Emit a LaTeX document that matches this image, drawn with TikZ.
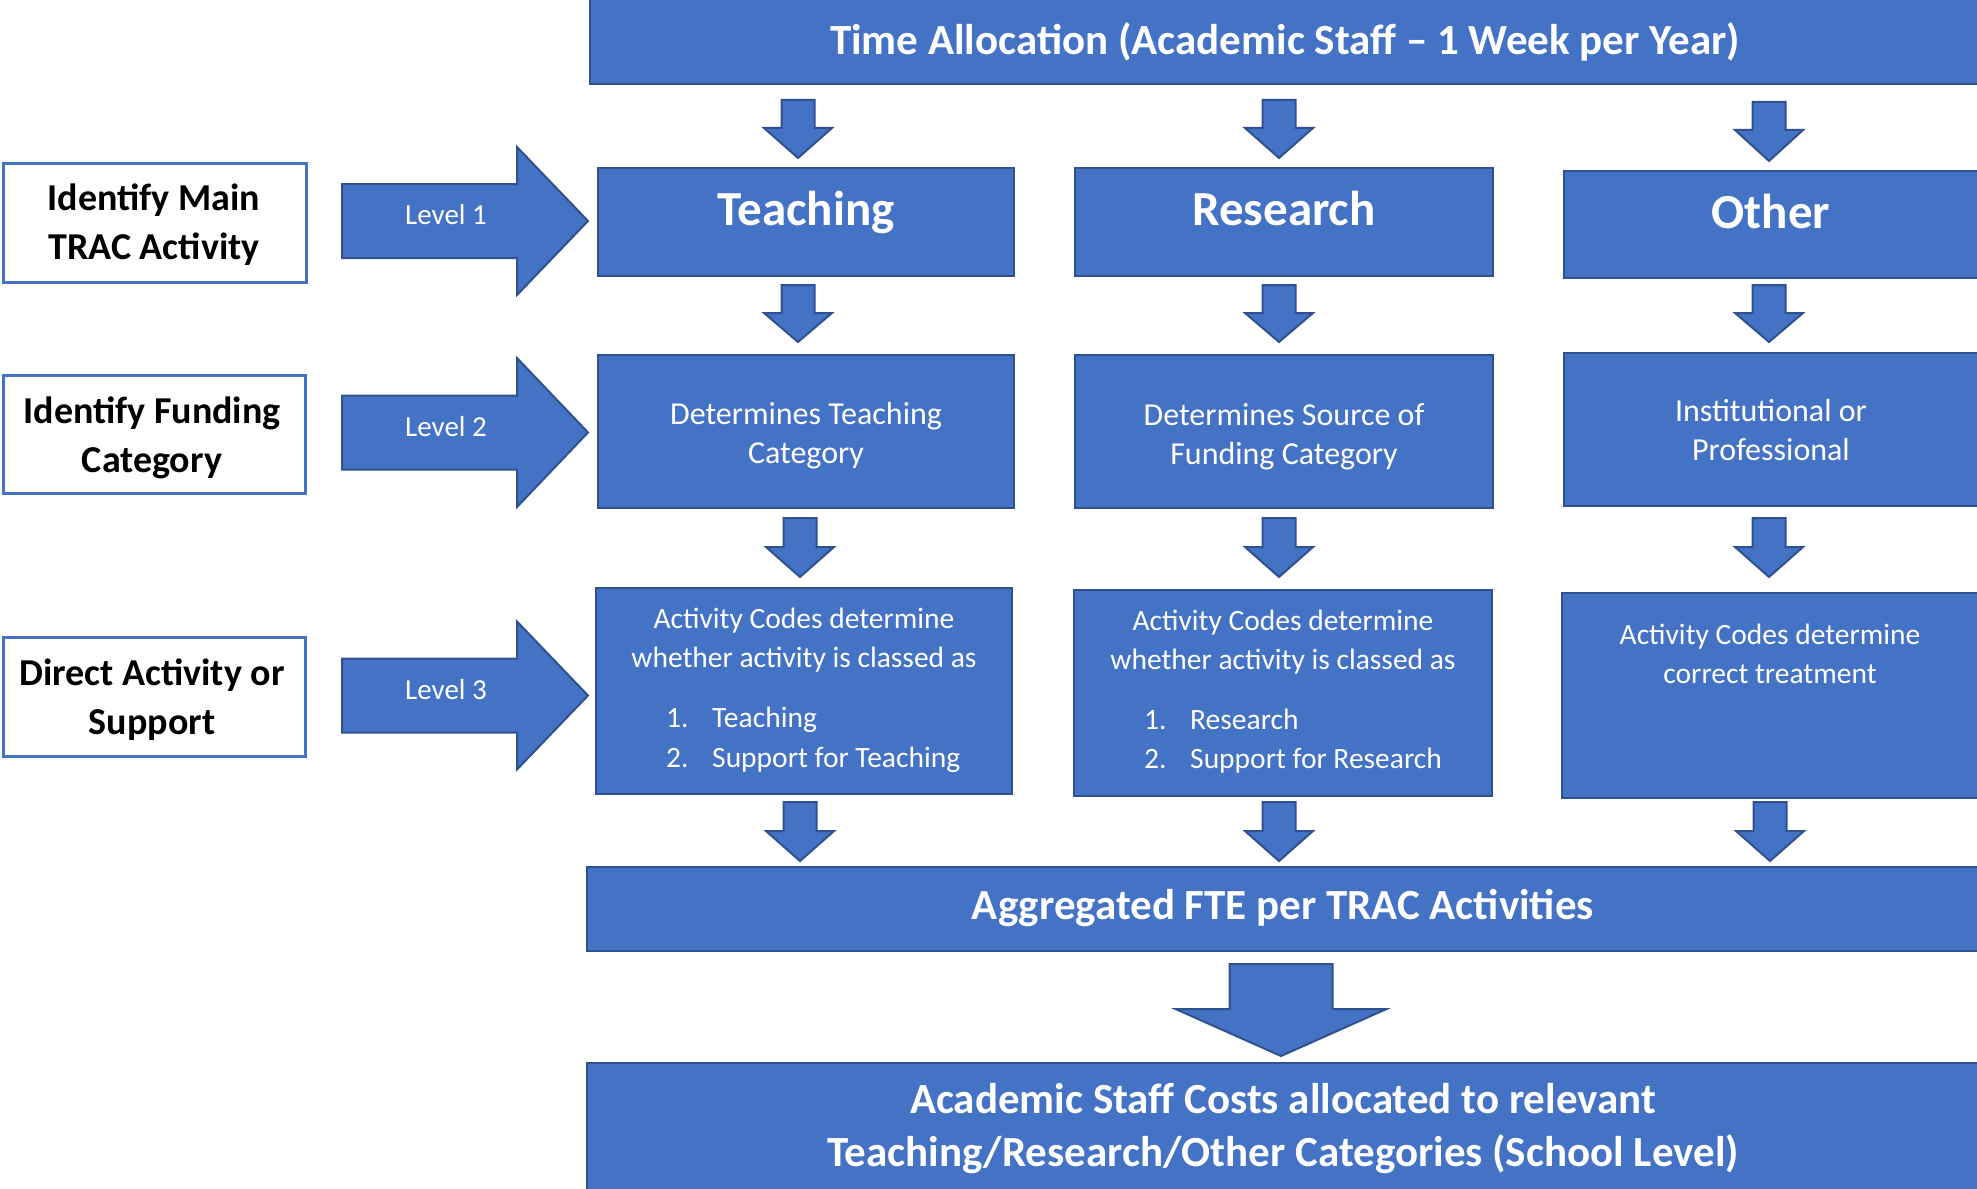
\documentclass[tikz,border=0pt]{standalone}
\usepackage{fontspec}
\setmainfont{Carlito}
\definecolor{boxblue}{HTML}{4472C4}
\definecolor{boxedge}{HTML}{2F528F}
% downward block arrow: centre x, top, neck, tip, shaft half width, head half width
\newcommand\dnarrow[6]{%
  \filldraw[blockarrow] (#1-#5,#2) -- (#1+#5,#2) -- (#1+#5,#3) -- (#1+#6,#3)
    -- (#1,#4) -- (#1-#6,#3) -- (#1-#5,#3) -- cycle;}
% rightward block arrow: centre y, left, neck, tip, shaft half height, head half height
\newcommand\rtarrow[6]{%
  \filldraw[blockarrow] (#2,#1-#5) -- (#3,#1-#5) -- (#3,#1-#6) -- (#4,#1)
    -- (#3,#1+#6) -- (#3,#1+#5) -- (#2,#1+#5) -- cycle;}
\begin{document}
\begin{tikzpicture}[x=1pt,y=-1pt,
  bbox/.style={draw=boxedge, fill=boxblue, line width=2.5pt, inner sep=0pt},
  lbox/.style={draw=boxblue, fill=white, line width=3pt, inner sep=0pt},
  blockarrow/.style={fill=boxblue, draw=boxedge, line width=2pt, line join=miter},
  titletext/.style={text=white, inner sep=0pt, font=\fontsize{43}{50}\selectfont\bfseries},
  headtext/.style={text=white, inner sep=0pt, anchor=base, font=\fontsize{49}{58}\selectfont\bfseries},
  sidetext/.style={text=black, align=center, inner sep=0pt, font=\fontsize{38}{49}\selectfont\bfseries},
  bodytext/.style={text=white, align=center, inner sep=0pt, font=\fontsize{32}{39}\selectfont},
  codetext/.style={text=white, align=center, inner sep=0pt, font=\fontsize{29.5}{39}\selectfont},
  itemtext/.style={text=white, inner sep=0pt, anchor=mid west, font=\fontsize{29.5}{39}\selectfont},
  leveltext/.style={text=white, inner sep=0pt, font=\fontsize{29}{35}\selectfont},
  bigtext/.style={text=white, align=center, inner sep=0pt, font=\fontsize{43}{53}\selectfont\bfseries}]
\useasboundingbox (0,0) rectangle (1977,1188);

% top banner
\node[bbox, minimum width=1400pt, minimum height=94pt] (top) at (1290,37) {};
\node[titletext] (toptxt) at (1285,42) {Time Allocation (Academic Staff – 1 Week per Year)};

% level 1: main activities
\node[bbox, minimum width=416pt, minimum height=108pt] (teach) at (806,222) {};
\node[headtext] at (806,225) {Teaching};
\node[bbox, minimum width=418pt, minimum height=108pt] (res) at (1284,222) {};
\node[headtext] at (1284,225) {Research};
\node[bbox, minimum width=426pt, minimum height=107pt] (oth) at (1777,224.5) {};
\node[headtext] at (1771,228) {Other};

% level 2: funding category
\node[bbox, minimum width=416pt, minimum height=153pt] (teachB) at (806,431.5) {};
\node[bodytext] at (806,435.5) {Determines Teaching\\Category};
\node[bbox, minimum width=418pt, minimum height=153pt] (resB) at (1284,431.5) {};
\node[bodytext] at (1284,437) {Determines Source of\\Funding Category};
\node[bbox, minimum width=426pt, minimum height=153pt] (othB) at (1777,429.5) {};
\node[bodytext] at (1771,430.5) {Institutional or\\Professional};

% level 3: activity codes
\node[bbox, minimum width=416pt, minimum height=206pt] (teachC) at (804,691) {};
\node[codetext] at (804,640) {Activity Codes determine\\whether activity is classed as};
\node[itemtext] at (666,725) {1.};
\node[itemtext] at (712,725) {Teaching};
\node[itemtext] at (666,765) {2.};
\node[itemtext] at (712,765) {Support for Teaching};

\node[bbox, minimum width=418pt, minimum height=206pt] (resC) at (1283,693) {};
\node[codetext] at (1283,642) {Activity Codes determine\\whether activity is classed as};
\node[itemtext] at (1144,727) {1.};
\node[itemtext] at (1190,727) {Research};
\node[itemtext] at (1144,766) {2.};
\node[itemtext] at (1190,766) {Support for Research};

\node[bbox, minimum width=428pt, minimum height=205pt] (othC) at (1776,695.5) {};
\node[codetext] at (1770,653.5) {Activity Codes determine\\correct treatment};

% aggregation and final allocation
\node[bbox, minimum width=1403pt, minimum height=84pt] (agg) at (1288.5,909) {};
\node[titletext] at (1283,908) {Aggregated FTE per TRAC Activities};
\node[bbox, minimum width=1403pt, minimum height=147pt] (final) at (1288.5,1136.5) {};
\node[bigtext] at (1283,1129) {Academic Staff Costs allocated to relevant\\Teaching/Research/Other Categories (School Level)};

% side labels
\node[lbox, minimum width=303pt, minimum height=119pt] (s1) at (154.5,222.5) {};
\node[sidetext] at (154,225) {Identify Main\\TRAC Activity};
\node[lbox, minimum width=302pt, minimum height=118pt] (s2) at (154,434) {};
\node[sidetext] at (152,438) {Identify Funding\\Category};
\node[lbox, minimum width=302pt, minimum height=119pt] (s3) at (154,696.5) {};
\node[sidetext] at (152,699.5) {Direct Activity or\\Support};

% level arrows
\rtarrow{221}{342}{517}{588}{37}{74}
\node[leveltext] at (446,215) {Level 1};
\rtarrow{432.5}{342}{517}{588}{37}{74.5}
\node[leveltext] at (446,426.5) {Level 2};
\rtarrow{695.5}{342}{517}{588}{37}{74}
\node[leveltext] at (446,689.5) {Level 3};

% downward arrows between rows
\dnarrow{798}{100}{128}{158}{16.5}{34}
\dnarrow{1279}{100}{128}{158}{16.5}{34}
\dnarrow{1769}{102}{130}{161}{16.5}{34}

\dnarrow{798}{285}{313}{342}{16.5}{34}
\dnarrow{1279}{285}{313}{342}{16.5}{34}
\dnarrow{1769}{285}{313}{342}{16.5}{34}

\dnarrow{800}{518}{547}{577}{16.5}{34}
\dnarrow{1279}{518}{547}{577}{16.5}{34}
\dnarrow{1769}{518}{547}{577}{16.5}{34}

\dnarrow{800}{802}{831}{861}{16.5}{34}
\dnarrow{1279}{802}{831}{861}{16.5}{34}
\dnarrow{1770}{802}{831}{861}{16.5}{34}

\dnarrow{1281}{964}{1009}{1056}{51.5}{105.5}
\end{tikzpicture}
\end{document}
